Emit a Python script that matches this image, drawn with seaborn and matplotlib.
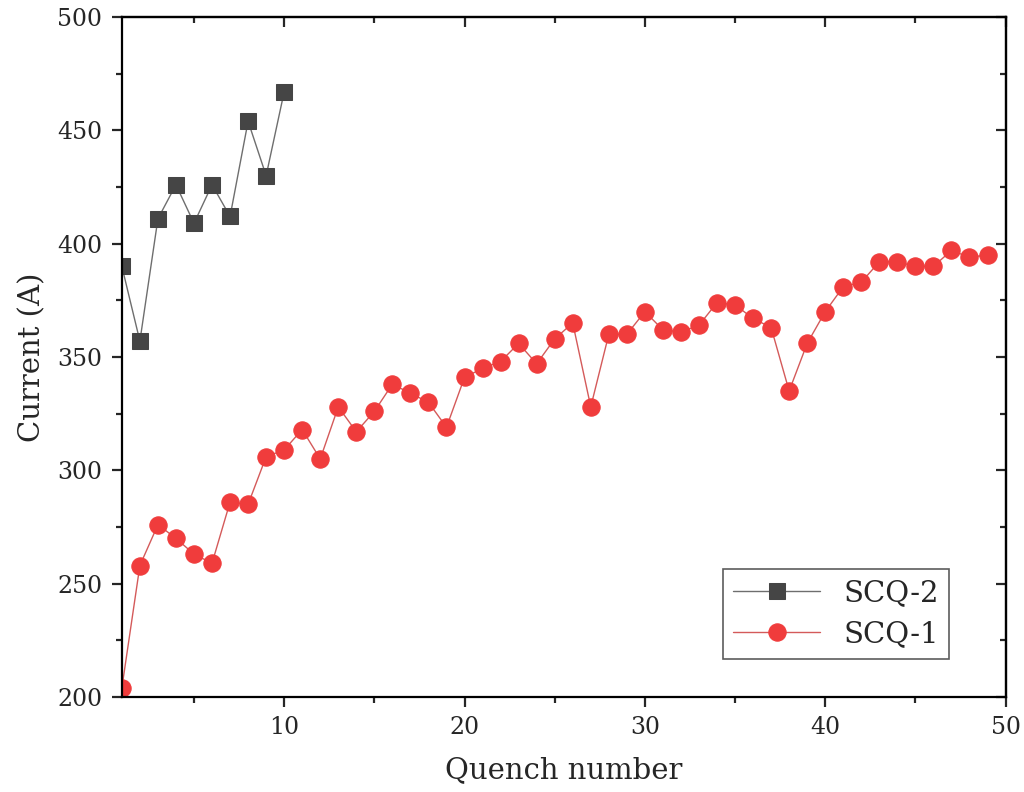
import numpy as np
import pandas as pd
import matplotlib
matplotlib.use('Agg')
import matplotlib.pyplot as plt
import seaborn as sns
from matplotlib.ticker import MultipleLocator

# data
scq1_current = [204, 258, 276, 270, 263, 259, 286, 285, 306, 309,
                318, 305, 328, 317, 326, 338, 334, 330, 319, 341,
                345, 348, 356, 347, 358, 365, 328, 360, 360, 370,
                362, 361, 364, 374, 373, 367, 363, 335, 356, 370,
                381, 383, 392, 392, 390, 390, 397, 394, 395]
scq2_current = [390, 357, 411, 426, 409, 426, 412, 454, 430, 467]
scq1_quench = list(range(1, len(scq1_current) + 1))
scq2_quench = list(range(1, len(scq2_current) + 1))

df1 = pd.DataFrame({'Quench': scq1_quench, 'Current': scq1_current})
df2 = pd.DataFrame({'Quench': scq2_quench, 'Current': scq2_current})

sns.set_style('ticks')
plt.rcParams['font.family'] = ['DejaVu Serif']

fig = plt.figure(figsize=(10.24, 7.92), dpi=100)
ax = fig.add_axes([0.119, 0.12, 0.863, 0.8585])

sns.lineplot(x='Quench', y='Current', data=df2, ax=ax, color='#6e6e6e', lw=1,
             marker='s', markersize=11, markerfacecolor='#454545',
             markeredgecolor='#454545', label='SCQ-2')
sns.lineplot(x='Quench', y='Current', data=df1, ax=ax, color='#d45a5a', lw=1,
             marker='o', markersize=12.5, markerfacecolor='#f03c3c',
             markeredgecolor='#f03c3c', label='SCQ-1')

ax.set_xlim(1, 50)
ax.set_ylim(200, 500)
ax.set_xticks([10, 20, 30, 40, 50])
ax.xaxis.set_minor_locator(MultipleLocator(5))
ax.yaxis.set_major_locator(MultipleLocator(50))
ax.yaxis.set_minor_locator(MultipleLocator(25))

for s in ax.spines.values():
    s.set_linewidth(1.6)
    s.set_color('black')

ax.tick_params(which='major', direction='out', length=7, width=1.6,
               labelsize=17, pad=7)
ax.tick_params(which='minor', direction='out', length=4, width=1.6)
# top / right ticks point inward
sec_x = ax.secondary_xaxis('top')
sec_x.set_xticks([10, 20, 30, 40, 50])
sec_x.xaxis.set_minor_locator(MultipleLocator(5))
sec_x.tick_params(which='major', direction='in', length=7, width=1.6, labeltop=False)
sec_x.tick_params(which='minor', direction='in', length=4, width=1.6)
sec_y = ax.secondary_yaxis('right')
sec_y.yaxis.set_major_locator(MultipleLocator(50))
sec_y.yaxis.set_minor_locator(MultipleLocator(25))
sec_y.tick_params(which='major', direction='in', length=7, width=1.6, labelright=False)
sec_y.tick_params(which='minor', direction='in', length=4, width=1.6)
for s in list(sec_x.spines.values()) + list(sec_y.spines.values()):
    s.set_linewidth(1.6)

ax.set_xlabel('Quench number', fontsize=21, labelpad=12)
ax.set_ylabel('Current (A)', fontsize=21, labelpad=8)

leg = ax.legend(loc='lower right', bbox_to_anchor=(0.953, 0.035), fontsize=21,
                frameon=True, fancybox=False, edgecolor='#333333',
                handlelength=3.0, borderpad=0.35, labelspacing=0.45)
leg.get_frame().set_linewidth(1.2)

fig.savefig('out.png', dpi=100)
